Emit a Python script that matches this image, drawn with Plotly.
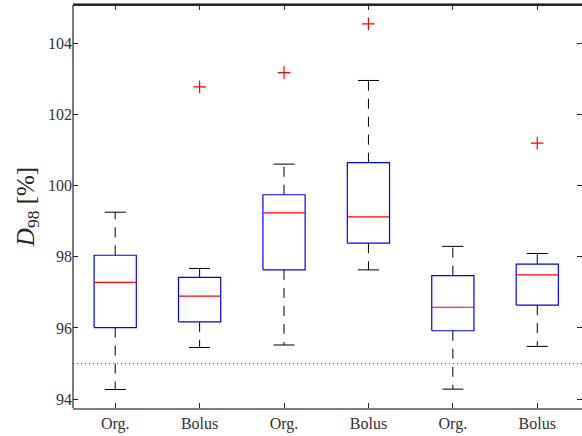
import plotly.graph_objects as go

# ---- data ----
labels = ["Org.", "Bolus", "Org.", "Bolus", "Org.", "Bolus"]
lower_whisker = [94.27, 95.45, 95.52, 97.63, 94.28, 95.48]
q1 = [96.01, 96.17, 97.63, 98.38, 95.92, 96.64]
median = [97.28, 96.89, 99.23, 99.12, 96.58, 97.49]
q3 = [98.04, 97.42, 99.74, 100.64, 97.47, 97.79]
upper_whisker = [99.25, 97.67, 100.60, 102.95, 98.29, 98.09]
outliers = [[], [102.77], [103.17], [104.54], [], [101.19]]
threshold = 95.0
y_ticks = [94, 96, 98, 100, 102, 104]

positions = list(range(1, len(labels) + 1))
BOX_HW = 0.25
CAP_HW = 0.125

box_x, box_y = [], []
med_x, med_y = [], []
wh_x, wh_y = [], []
cap_x, cap_y = [], []
out_x, out_y = [], []
for p, lw, a, m, b, uw, outs in zip(positions, lower_whisker, q1, median, q3,
                                    upper_whisker, outliers):
    box_x += [p - BOX_HW, p + BOX_HW, p + BOX_HW, p - BOX_HW, p - BOX_HW, None]
    box_y += [a, a, b, b, a, None]
    med_x += [p - BOX_HW, p + BOX_HW, None]
    med_y += [m, m, None]
    wh_x += [p, p, None, p, p, None]
    wh_y += [b, uw, None, a, lw, None]
    cap_x += [p - CAP_HW, p + CAP_HW, None, p - CAP_HW, p + CAP_HW, None]
    cap_y += [uw, uw, None, lw, lw, None]
    for o in outs:
        out_x.append(p)
        out_y.append(o)

fig = go.Figure()
# threshold dotted line
fig.add_trace(go.Scatter(x=[0.5, 6.6], y=[threshold, threshold], mode="lines",
                         line=dict(color="#555555", width=1, dash="1px,3px"),
                         hoverinfo="skip", showlegend=False))
fig.add_trace(go.Scatter(x=wh_x, y=wh_y, mode="lines",
                         line=dict(color="black", width=1, dash="10px,8px"),
                         showlegend=False))
fig.add_trace(go.Scatter(x=cap_x, y=cap_y, mode="lines",
                         line=dict(color="black", width=1), showlegend=False))
fig.add_trace(go.Scatter(x=box_x, y=box_y, mode="lines",
                         line=dict(color="#0000ff", width=1.2), showlegend=False))
fig.add_trace(go.Scatter(x=med_x, y=med_y, mode="lines",
                         line=dict(color="#ff0000", width=1.2), showlegend=False))
fig.add_trace(go.Scatter(x=out_x, y=out_y, mode="markers",
                         marker=dict(symbol="cross-thin", size=9,
                                     line=dict(color="#ff0000", width=1.2)),
                         showlegend=False))

font_family = "Liberation Serif, DejaVu Serif, serif"
fig.update_layout(
    width=582, height=436,
    margin=dict(l=73, r=0, t=5, b=28),
    paper_bgcolor="white", plot_bgcolor="white",
    font=dict(family=font_family, size=16, color="#333333"),
    xaxis=dict(range=[0.5, 6.53], tickvals=positions, ticktext=labels,
               showgrid=False, zeroline=False, showline=True,
               linecolor="#808080", linewidth=2, mirror="ticks",
               ticks="inside", ticklen=5, tickcolor="#262626",
               tickfont=dict(size=16)),
    yaxis=dict(range=[93.75, 105.07], tickvals=y_ticks,
               showgrid=False, zeroline=False, showline=False,
               mirror="ticks",
               ticks="inside", ticklen=5, tickcolor="#262626",
               tickfont=dict(size=16),
               title=dict(text="<i>D</i><sub>98</sub> [%]",
                          font=dict(size=25, color="#262626"), standoff=6)),
    shapes=[
        dict(type="line", xref="paper", yref="paper", x0=0, x1=1, y0=1, y1=1,
             line=dict(color="#262626", width=2), layer="above"),
        dict(type="line", xref="paper", yref="paper", x0=0, x1=0, y0=0, y1=1,
             line=dict(color="#262626", width=1.2), layer="above"),
    ],
)

fig.write_html("out.html", config={"displayModeBar": False},
               post_script="document.body.style.margin='0';document.body.style.padding='0';")
